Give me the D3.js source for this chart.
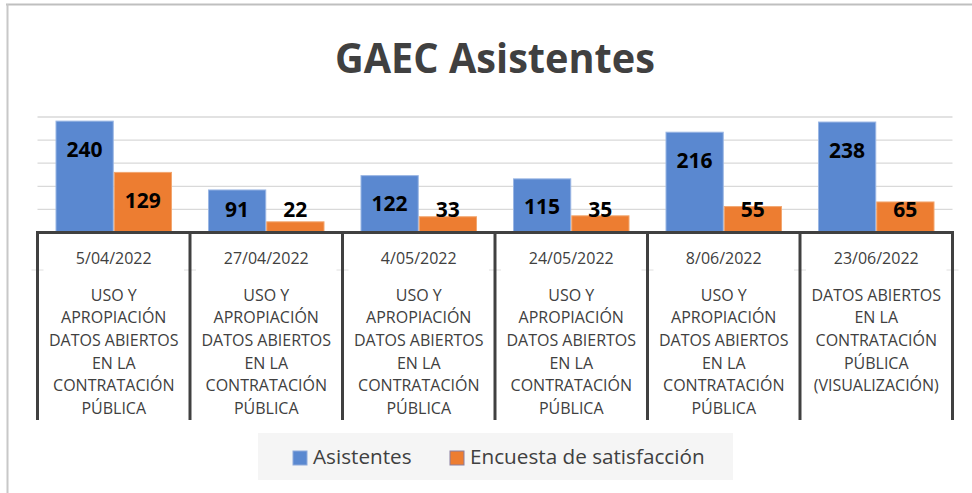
<!DOCTYPE html>
<html>
<head>
<meta charset="utf-8">
<script src="https://cdn.jsdelivr.net/npm/d3@7/dist/d3.min.js"></script>
<style>
  html, body { margin: 0; padding: 0; background: #ffffff; }
  svg { display: block; }
  text { font-family: "Open Sans", "Noto Sans", sans-serif; }
</style>
</head>
<body>
<svg id="chart" width="972" height="493"></svg>
<script>
// ---- data ----
const dates = ["5/04/2022", "27/04/2022", "4/05/2022", "24/05/2022", "8/06/2022", "23/06/2022"];
const topics = [
  ["USO Y", "APROPIACIÓN", "DATOS ABIERTOS", "EN LA", "CONTRATACIÓN", "PÚBLICA"],
  ["USO Y", "APROPIACIÓN", "DATOS ABIERTOS", "EN LA", "CONTRATACIÓN", "PÚBLICA"],
  ["USO Y", "APROPIACIÓN", "DATOS ABIERTOS", "EN LA", "CONTRATACIÓN", "PÚBLICA"],
  ["USO Y", "APROPIACIÓN", "DATOS ABIERTOS", "EN LA", "CONTRATACIÓN", "PÚBLICA"],
  ["USO Y", "APROPIACIÓN", "DATOS ABIERTOS", "EN LA", "CONTRATACIÓN", "PÚBLICA"],
  ["DATOS ABIERTOS", "EN LA", "CONTRATACIÓN", "PÚBLICA", "(VISUALIZACIÓN)"]
];
const asistentes = [240, 91, 122, 115, 216, 238];
const encuesta = [129, 22, 33, 35, 55, 65];
const seriesNames = ["Asistentes", "Encuesta de satisfacción"];
const yTicks = [0, 50, 100, 150, 200, 250];
const titleText = "GAEC Asistentes";

// ---- layout ----
const svg = d3.select("#chart");
const colors = ["#5a88d0", "#ed7d31"];
const strokes = ["#9ab6e4", "#f2a66f"];
const x0 = 37.5, x1 = 952.5, yBase = 232, yTop = 116.5;

// frame
svg.append("line").attr("x1", 6).attr("x2", 972).attr("y1", 4.5).attr("y2", 4.5)
  .attr("stroke", "#bfbfbf").attr("stroke-width", 2);
svg.append("line").attr("x1", 7.5).attr("x2", 7.5).attr("y1", 4).attr("y2", 493)
  .attr("stroke", "#c8c8c8").attr("stroke-width", 2);

// title
svg.append("text").attr("x", 495).attr("y", 72.5).attr("text-anchor", "middle")
  .attr("font-size", 42).attr("font-weight", 700).attr("fill", "#404040")
  .attr("textLength", 320).attr("lengthAdjust", "spacingAndGlyphs")
  .text(titleText);

const x = d3.scaleBand().domain(d3.range(dates.length)).range([x0, x1]).paddingInner(0).paddingOuter(0);
const y = d3.scaleLinear().domain([0, 250]).range([yBase, yTop]);
const groupW = x.bandwidth() * 0.764;
const xs = d3.scaleBand().domain([0, 1]).range([(x.bandwidth() - groupW) / 2, (x.bandwidth() + groupW) / 2]).padding(0);

// gridlines
const grid = svg.append("g").attr("transform", `translate(${x0},0)`)
  .call(d3.axisLeft(y).tickValues(yTicks.filter(d => d > 0)).tickSize(-(x1 - x0)).tickFormat(""));
grid.select(".domain").remove();
grid.selectAll(".tick line").attr("stroke", "#d9d9d9").attr("stroke-width", 1.3);

// bars
const series = [asistentes, encuesta];
series.forEach((vals, si) => {
  const g = svg.append("g");
  g.selectAll("rect").data(vals).join("rect")
    .attr("x", (d, i) => x(i) + xs(si) + 0.5)
    .attr("width", xs.bandwidth() - 1)
    .attr("y", d => y(d))
    .attr("height", d => yBase - y(d))
    .attr("fill", colors[si])
    .attr("stroke", strokes[si]).attr("stroke-width", 1);
  g.selectAll("text").data(vals).join("text")
    .attr("x", (d, i) => x(i) + xs(si) + xs.bandwidth() / 2)
    .attr("y", d => Math.min(y(d) + 28, yBase - 23))
    .attr("dy", "0.36em")
    .attr("text-anchor", "middle")
    .attr("font-size", 21).attr("font-weight", 700).attr("fill", "#000000")
    .text(d => d);
});

// category axis
const sepXs = d3.range(dates.length + 1).map(i => i < dates.length ? x(i) : x1);
svg.append("g").selectAll("line.faint").data(sepXs).join("line")
  .attr("x1", d => d - 6).attr("x2", d => d + 6).attr("y1", 270).attr("y2", 270)
  .attr("stroke", "#e0e0e0").attr("stroke-width", 1);
svg.append("line").attr("x1", x0 - 1.5).attr("x2", x1 + 1.5).attr("y1", yBase + 0.5).attr("y2", yBase + 0.5)
  .attr("stroke", "#404040").attr("stroke-width", 3);
svg.append("g").selectAll("line").data(sepXs).join("line")
  .attr("x1", d => d).attr("x2", d => d).attr("y1", yBase).attr("y2", 420)
  .attr("stroke", "#404040").attr("stroke-width", 3);

const cats = svg.append("g");
cats.selectAll("text.date").data(dates).join("text").attr("class", "date")
  .attr("x", (d, i) => x(i) + x.bandwidth() / 2).attr("y", 263.5)
  .attr("text-anchor", "middle").attr("font-size", 16).attr("fill", "#404040")
  .text(d => d);
topics.forEach((lines, i) => {
  cats.append("g").selectAll("text").data(lines).join("text")
    .attr("x", x(i) + x.bandwidth() / 2)
    .attr("y", (d, j) => 300.8 + j * 22.6)
    .attr("text-anchor", "middle").attr("font-size", 16).attr("fill", "#404040")
    .text(d => d);
});

// legend
const leg = svg.append("g");
leg.append("rect").attr("x", 258).attr("y", 433).attr("width", 475).attr("height", 47).attr("fill", "#f5f5f5");
const legX = [293, 450];
seriesNames.forEach((name, i) => {
  leg.append("rect").attr("x", legX[i]).attr("y", 451).attr("width", 14).attr("height", 14)
    .attr("fill", colors[i]).attr("stroke", i === 0 ? "#8eaadb" : "#8a7fa0").attr("stroke-width", 1);
  leg.append("text").attr("x", legX[i] + 20).attr("y", 464)
    .attr("font-size", 20.7).attr("fill", "#404040").text(name);
});
</script>
</body>
</html>
